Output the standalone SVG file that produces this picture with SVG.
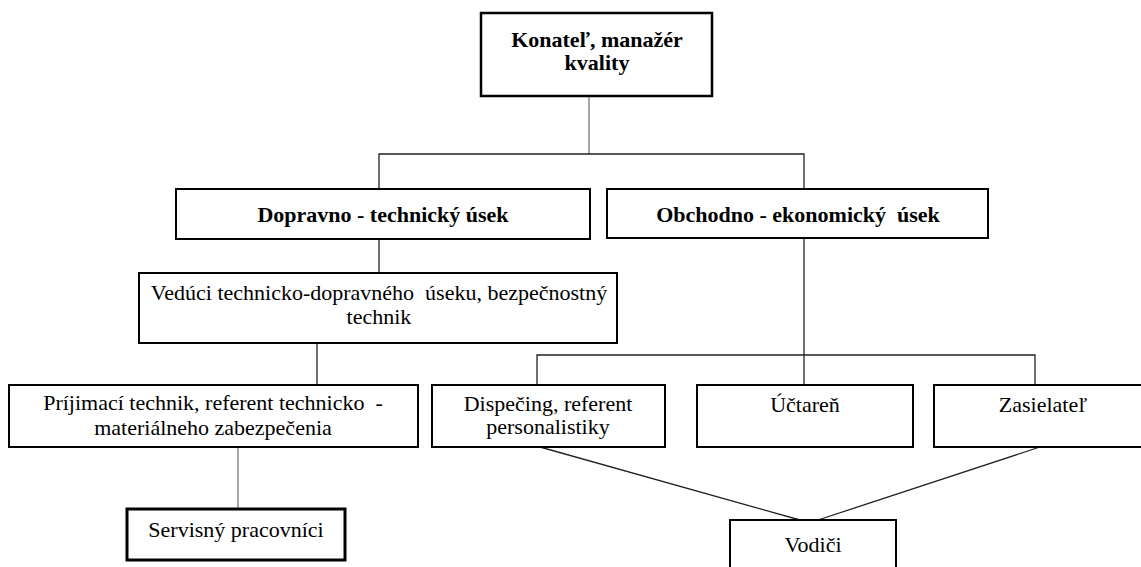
<svg xmlns="http://www.w3.org/2000/svg" width="1141" height="567" viewBox="0 0 1141 567">
<style>
.box{fill:#fff;stroke:#000;stroke-width:2}
.thick{stroke-width:3}
.t{font-family:'Liberation Serif','Times New Roman',serif;font-size:22px;fill:#000;text-anchor:middle}
.b{font-weight:bold}
.c{fill:none;stroke:#222;stroke-width:1.3}
.g{stroke:#777}
</style>
<rect width="1141" height="567" fill="#fff"/>
<g id="connectors">
<line class="c g" x1="589" y1="96" x2="589" y2="154"/>
<polyline class="c" points="379,189 379,154 804,154 804,189"/>
<line class="c" x1="379" y1="239" x2="379" y2="273"/>
<line class="c" x1="317" y1="343" x2="317" y2="385"/>
<line class="c g" x1="238" y1="447" x2="238" y2="509"/>
<line class="c" x1="804" y1="238" x2="804" y2="385"/>
<polyline class="c" points="537,385 537,355 1035,355 1035,385"/>
<line class="c" x1="540" y1="447" x2="800" y2="520"/>
<line class="c" x1="1040" y1="447" x2="818" y2="520"/>
</g>
<g id="n-konatel">
<rect class="box" x="481" y="13" width="231" height="83" style="stroke-width:2.5"/>
<text class="t b" x="597" y="47">Konateľ, manažér</text>
<text class="t b" x="597" y="70">kvality</text>
</g>
<g id="n-dopravno">
<rect class="box" x="176" y="189" width="414" height="50"/>
<text class="t b" x="383" y="222">Dopravno - technický úsek</text>
</g>
<g id="n-obchodno">
<rect class="box" x="607" y="189" width="381" height="49"/>
<text class="t b" x="798" y="222" xml:space="preserve">Obchodno - ekonomický  úsek</text>
</g>
<g id="n-veduci">
<rect class="box" x="139" y="273" width="478" height="70"/>
<text class="t" x="379" y="300" xml:space="preserve">Vedúci technicko-dopravného  úseku, bezpečnostný</text>
<text class="t" x="379" y="324">technik</text>
</g>
<g id="n-prijimaci">
<rect class="box" x="9" y="385" width="409" height="62"/>
<text class="t" x="213" y="410" xml:space="preserve">Príjimací technik, referent technicko  -</text>
<text class="t" x="213" y="435">materiálneho zabezpečenia</text>
</g>
<g id="n-servisny">
<rect class="box thick" x="127" y="509" width="218" height="51"/>
<text class="t" x="236" y="537">Servisný pracovníci</text>
</g>
<g id="n-dispecing">
<rect class="box" x="432" y="385" width="233" height="62"/>
<text class="t" x="548" y="411">Dispečing, referent</text>
<text class="t" x="548" y="434">personalistiky</text>
</g>
<g id="n-uctaren">
<rect class="box" x="697" y="385" width="216" height="62"/>
<text class="t" x="805" y="412">Účtareň</text>
</g>
<g id="n-zasielatel">
<rect class="box" x="934" y="385" width="216" height="62"/>
<text class="t" x="1043" y="412">Zasielateľ</text>
</g>
<g id="n-vodici">
<rect class="box" x="730" y="520" width="166" height="60"/>
<text class="t" x="813" y="552">Vodiči</text>
</g>
</svg>
